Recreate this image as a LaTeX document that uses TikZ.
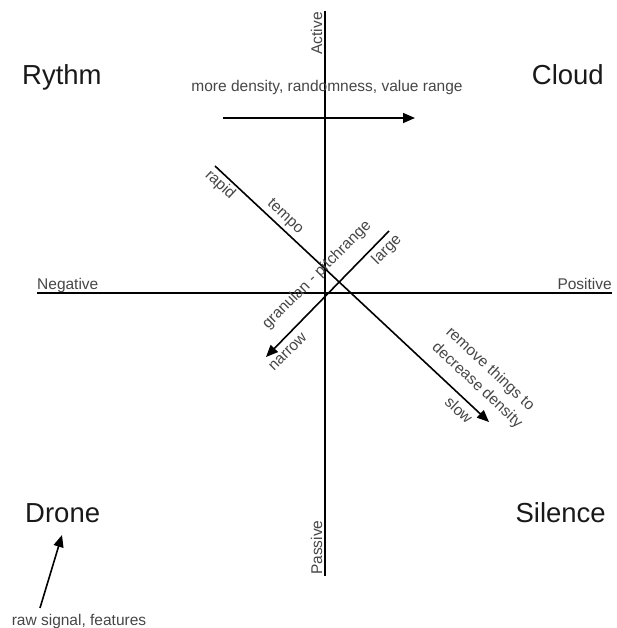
\documentclass[tikz,border=0pt]{standalone}
\usepackage{fontspec}
\setmainfont{Liberation Sans}
\usetikzlibrary{arrows.meta}
\definecolor{labelgray}{RGB}{70,70,70}
\definecolor{titleblack}{RGB}{25,25,25}
\begin{document}
\begin{tikzpicture}[x=1pt,y=-1pt,
  axis/.style={line width=1.6pt,black},
  arrow/.style={-{Triangle[length=12pt,width=10pt]},line width=1.6pt,black},
  title/.style={font=\fontsize{27.5}{32}\selectfont,text=titleblack,inner sep=0pt},
  lbl/.style={font=\fontsize{15.5}{20.5}\selectfont,text=labelgray,inner sep=0pt}]
\useasboundingbox (0,0) rectangle (617,628);
% axes
\coordinate (top) at (325,11);
\coordinate (bottom) at (325,576);
\coordinate (left) at (37,293);
\coordinate (right) at (612,293);
\draw[axis] (top) -- (bottom);
\draw[axis] (left) -- (right);
\node[lbl,rotate=90,anchor=base east] (active) at (322,12) {Active};
\node[lbl,rotate=90,anchor=base west] (passive) at (322,575) {Passive};
\node[lbl,anchor=base west] (negative) at (37,289) {Negative};
\node[lbl,anchor=base east] (positive) at (612,289) {Positive};
% quadrants
\node[title,anchor=base west] (rythm) at (22,85) {Rythm};
\node[title,anchor=base east] (cloud) at (604,85) {Cloud};
\node[title,anchor=base west] (drone) at (25,522) {Drone};
\node[title,anchor=base east] (silence) at (606,522) {Silence};
% density arrow
\coordinate (dens0) at (223,118);
\coordinate (dens1) at (415,118);
\draw[arrow] (dens0) -- (dens1);
\node[lbl,anchor=base] (density) at (327,92) {more density, randomness, value range};
% tempo
\coordinate (tempo0) at (215,166);
\coordinate (tempo1) at (489,422);
\draw[arrow] (tempo0) -- (tempo1);
\node[lbl,rotate=-43] (rapid) at (220,185) {rapid};
\node[lbl,rotate=-43] (tempo) at (285,217) {tempo};
\node[lbl,rotate=-43] (slow) at (459,410) {slow};
\node[lbl,rotate=-43,align=left] (remove) at (484,378)
  {remove things to\\decrease density};
% granular
\coordinate (gran0) at (389,231);
\coordinate (gran1) at (266,357);
\draw[arrow] (gran0) -- (gran1);
\node[lbl,rotate=45] (granular) at (317,275) {granulan - pitchrange};
\node[lbl,rotate=45] (large) at (387,250) {large};
\node[lbl,rotate=45] (narrow) at (288,352) {narrow};
% drone
\coordinate (raw) at (40,608);
\node[lbl,anchor=base] (rawlbl) at (79,625) {raw signal, features};
\draw[arrow] (raw) -- (62,535);
\end{tikzpicture}
\end{document}
